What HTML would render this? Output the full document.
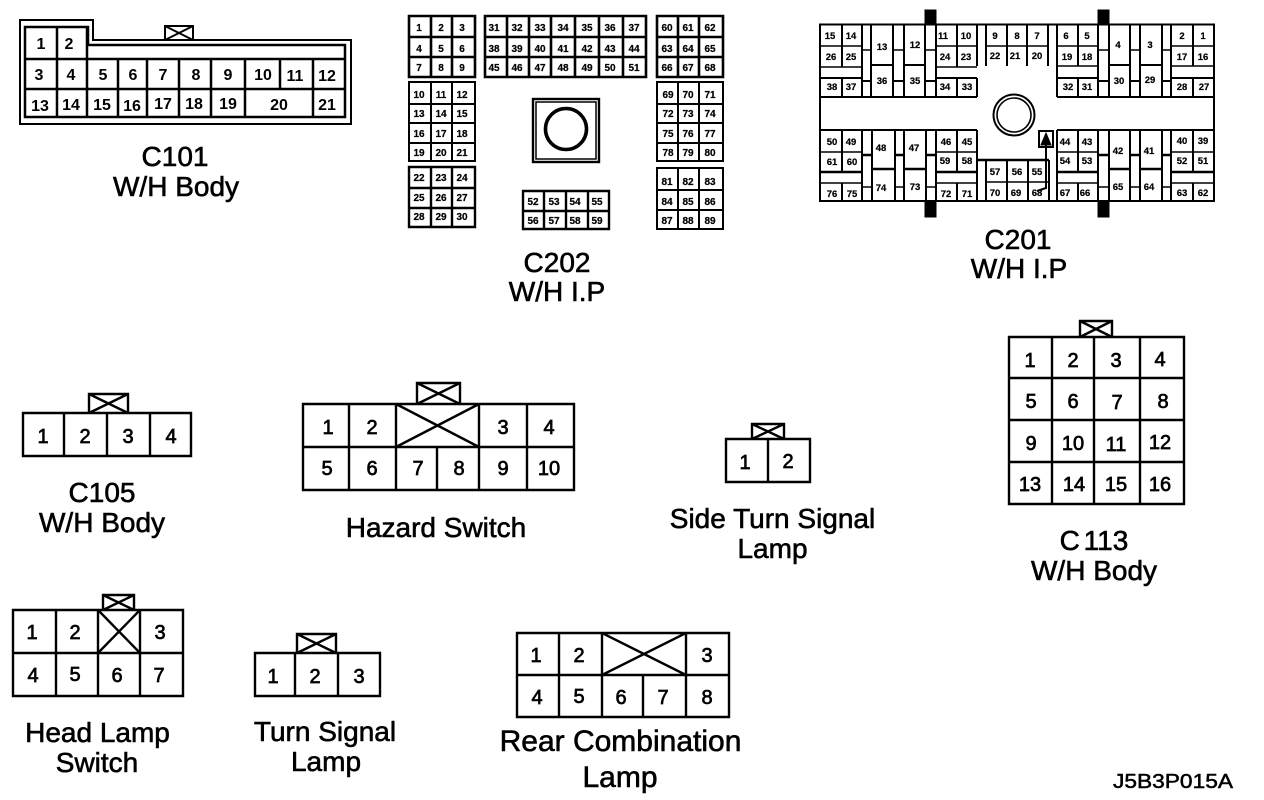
<!DOCTYPE html>
<html><head><meta charset="utf-8"><title>Connector diagram</title>
<style>
html,body{margin:0;padding:0;background:#fff;width:1264px;height:800px;overflow:hidden}
svg{display:block}
text{font-family:"Liberation Sans",sans-serif;fill:#000;text-anchor:middle}
.l{font-size:28px;stroke:#000;stroke-width:.6}
.d{font-size:20px;stroke:#000;stroke-width:.7}
.m{font-size:16px;font-weight:bold}
.s{font-size:10px;font-weight:bold;stroke:#000;stroke-width:.2}
.t{font-size:9.5px;font-weight:bold;stroke:#000;stroke-width:.2}
path,rect,circle{fill:none;stroke:#000}
</style></head><body>
<svg width="1264" height="800" viewBox="0 0 1264 800" xmlns="http://www.w3.org/2000/svg">

<!-- C101 -->
<path stroke-width="2" d="M20 20H93V40H351V124H20Z"/>
<path stroke-width="2.5" d="M25 27H88V45H345V117H25ZM25 59H345M25 89H345M57 27V117M87 27V117M118 59V117M147 59V117M179 59V117M211 59V117M245 59V117M280 59V89M313 59V117"/>
<path stroke-width="2" d="M165 40V26H193V40M165 26L193 40M193 26L165 40"/>
<g class="m">
<text x="41" y="49">1</text><text x="69" y="49">2</text>
<text x="39" y="80">3</text><text x="71" y="80">4</text><text x="103" y="80">5</text><text x="133" y="80">6</text><text x="163" y="80">7</text><text x="196" y="80">8</text><text x="228" y="80">9</text><text x="263" y="80">10</text><text x="295" y="81">11</text><text x="327" y="81">12</text>
<text x="40" y="111">13</text><text x="71" y="110">14</text><text x="102" y="110">15</text><text x="132" y="111">16</text><text x="163" y="109">17</text><text x="194" y="109">18</text><text x="228" y="109">19</text><text x="279" y="110">20</text><text x="327" y="110">21</text>
</g>
<text class="l" x="175" y="166">C101</text>
<text class="l" x="176" y="196">W/H Body</text>

<!-- C202 -->
<path stroke-width="2.6" d="M409 16H475V77H409ZM431 16V77M452 16V77M409 37H475M409 57H475"/>
<path stroke-width="2.6" d="M485 16H646V77H485ZM507 16V77M529 16V77M551 16V77M575 16V77M599 16V77M623 16V77M485 37H646M485 57H646"/>
<path stroke-width="2.6" d="M657 16H723V77H657ZM678 16V77M699 16V77M657 37H723M657 57H723"/>
<path stroke-width="2" d="M409 82H475V161H409ZM431 82V161M452 82V161M409 104H475M409 123H475M409 143H475"/>
<path stroke-width="2.4" d="M409 167H475V227H409ZM431 167V227M452 167V227M409 188H475M409 208H475"/>
<path stroke-width="2" d="M657 82H723V161H657ZM678 82V161M699 82V161M657 104H723M657 123H723M657 143H723"/>
<path stroke-width="2" d="M657 168H723V229H657ZM678 168V229M699 168V229M657 190H723M657 210H723"/>
<path stroke-width="2.4" d="M523 191H609V229H523ZM544 191V229M566 191V229M588 191V229M523 211H609"/>
<rect x="533" y="99" width="66" height="63" stroke-width="2.4"/>
<rect x="536" y="102" width="60" height="57" stroke-width="1.5"/>
<circle cx="566" cy="129" r="20.5" stroke-width="3.6"/>
<g class="s">
<text x="419" y="31">1</text><text x="441" y="31">2</text><text x="462" y="31">3</text>
<text x="419" y="52">4</text><text x="441" y="52">5</text><text x="462" y="52">6</text>
<text x="419" y="71">7</text><text x="441" y="71">8</text><text x="462" y="71">9</text>
<text x="494" y="31">31</text><text x="517" y="31">32</text><text x="540" y="31">33</text><text x="563" y="31">34</text><text x="587" y="31">35</text><text x="610" y="31">36</text><text x="634" y="31">37</text>
<text x="494" y="52">38</text><text x="517" y="52">39</text><text x="540" y="52">40</text><text x="563" y="52">41</text><text x="587" y="52">42</text><text x="610" y="52">43</text><text x="634" y="52">44</text>
<text x="494" y="71">45</text><text x="517" y="71">46</text><text x="540" y="71">47</text><text x="563" y="71">48</text><text x="587" y="71">49</text><text x="610" y="71">50</text><text x="634" y="71">51</text>
<text x="667" y="31">60</text><text x="688" y="31">61</text><text x="710" y="31">62</text>
<text x="667" y="52">63</text><text x="688" y="52">64</text><text x="710" y="52">65</text>
<text x="667" y="71">66</text><text x="688" y="71">67</text><text x="710" y="71">68</text>
<text x="419" y="98">10</text><text x="441" y="98">11</text><text x="462" y="98">12</text>
<text x="419" y="117">13</text><text x="441" y="117">14</text><text x="462" y="117">15</text>
<text x="419" y="137">16</text><text x="441" y="137">17</text><text x="462" y="137">18</text>
<text x="419" y="156">19</text><text x="441" y="156">20</text><text x="462" y="156">21</text>
<text x="419" y="181">22</text><text x="441" y="181">23</text><text x="462" y="181">24</text>
<text x="419" y="201">25</text><text x="441" y="201">26</text><text x="462" y="201">27</text>
<text x="419" y="220">28</text><text x="441" y="220">29</text><text x="462" y="220">30</text>
<text x="668" y="98">69</text><text x="688" y="98">70</text><text x="710" y="98">71</text>
<text x="668" y="117">72</text><text x="688" y="117">73</text><text x="710" y="117">74</text>
<text x="668" y="137">75</text><text x="688" y="137">76</text><text x="710" y="137">77</text>
<text x="668" y="156">78</text><text x="688" y="156">79</text><text x="710" y="156">80</text>
<text x="667" y="185">81</text><text x="688" y="185">82</text><text x="710" y="185">83</text>
<text x="667" y="205">84</text><text x="688" y="205">85</text><text x="710" y="205">86</text>
<text x="667" y="224">87</text><text x="688" y="224">88</text><text x="710" y="224">89</text>
<text x="533" y="205">52</text><text x="554" y="205">53</text><text x="575" y="205">54</text><text x="597" y="205">55</text>
<text x="533" y="224">56</text><text x="554" y="224">57</text><text x="575" y="224">58</text><text x="597" y="224">59</text>
</g>
<text class="l" x="557" y="272">C202</text>
<text class="l" x="557" y="301">W/H I.P</text>

<!-- C201 -->
<g>
<rect x="925" y="10" width="11" height="14" style="fill:#000"/>
<rect x="1098" y="10" width="11" height="14" style="fill:#000"/>
<rect x="925" y="201" width="11" height="16" style="fill:#000"/>
<rect x="1098" y="201" width="11" height="16" style="fill:#000"/>
</g>
<path stroke-width="2" d="M820 24.500H1214V201H820ZM820 97H977M1057 97H1214M820 130H977M1057 130H1214M977 201H1057"/>
<path stroke-width="2" d="M842 24V67M842 78V97M862 24V97M871 24V97M893 24V97M904 24V97M925 24V97M936 24V97M957 24V67M957 78V97M977 24V66M977 78V97M986 24V66M1007 24V66M1027 24V66M1048 24V66M1057 24V97M1078 24V66M1078 78V97M1098 24V97M1109 24V97M1130 24V97M1140 24V97M1162 24V97M1171 24V97M1193 24V66M1193 78V97"/>
<path stroke-width="1.4" d="M820 46H862M820 67H862M936 46H977M936 67H977M986 46H1048M1057 46H1098M1057 66H1098M1171 46H1214M1171 66H1214M862 50H871M893 50H904M925 50H936M1098 50H1109M1130 50H1140M1162 50H1171"/>
<path stroke-width="2" d="M820 78H862M936 78H977M1057 78H1098M1171 78H1214M871 65H893M904 65H925M1109 65H1130M1140 65H1162M862 81H871M893 81H904M925 81H936M1098 81H1109M1130 81H1140M1162 81H1171"/>
<path stroke-width="2" d="M842 130V172M842 183V201M862 130V201M872 130V201M895 130V201M904 130V201M926 130V201M936 130V201M957 130V172M957 183V201M977 130V201M986 160V201M1007 160V201M1028 160V201M1049 160V201M1057 130V201M1078 130V172M1078 183V201M1098 130V201M1109 130V201M1130 130V201M1140 130V201M1162 130V201M1171 130V201M1193 130V172M1193 183V201"/>
<path stroke-width="1.4" d="M820 152H862M936 152H977M1057 152H1098M1171 152H1214M820 183H862M936 183H977M1057 183H1098M1171 183H1214M986 182H1049M862 187H872M895 187H904M926 187H936M1098 187H1109M1130 187H1140M1162 187H1171"/>
<path stroke-width="2.4" d="M820 172H862M936 172H977M1057 172H1098M1171 172H1214M872 169H895M904 169H926M1109 169H1130M1140 169H1162M862 155H872M895 155H904M926 155H936M1098 155H1109M1130 155H1140M1162 155H1171M977 160H1049"/>
<circle cx="1014" cy="115" r="20.500" stroke-width="2"/>
<circle cx="1014" cy="115" r="17" stroke-width="1.6"/>
<rect x="1039" y="131" width="14" height="16" stroke-width="2"/>
<path d="M1041 145L1046 133L1051 145Z" style="fill:#000"/>
<path stroke-width="2" d="M1046 145V188L1037 191"/>
<g class="t">
<text x="830" y="39">15</text><text x="851" y="39">14</text><text x="831" y="60">26</text><text x="851" y="60">25</text><text x="832" y="90">38</text><text x="851" y="90">37</text>
<text x="882" y="50">13</text><text x="882" y="84">36</text><text x="915" y="48">12</text><text x="915" y="84">35</text>
<text x="943" y="39">11</text><text x="966" y="39">10</text><text x="945" y="60">24</text><text x="966" y="60">23</text><text x="945" y="90">34</text><text x="967" y="90">33</text>
<text x="995" y="39">9</text><text x="1017" y="39">8</text><text x="1037" y="39">7</text><text x="995" y="59">22</text><text x="1015" y="59">21</text><text x="1037" y="59">20</text>
<text x="1066" y="39">6</text><text x="1087" y="39">5</text><text x="1067" y="60">19</text><text x="1087" y="60">18</text><text x="1068" y="90">32</text><text x="1087" y="90">31</text>
<text x="1118" y="48">4</text><text x="1119" y="84">30</text><text x="1150" y="48">3</text><text x="1150" y="83">29</text>
<text x="1182" y="39">2</text><text x="1203" y="39">1</text><text x="1182" y="60">17</text><text x="1203" y="60">16</text><text x="1182" y="90">28</text><text x="1204" y="90">27</text>
<text x="832" y="145">50</text><text x="851" y="145">49</text><text x="832" y="165">61</text><text x="852" y="165">60</text><text x="832" y="197">76</text><text x="852" y="197">75</text>
<text x="881" y="151">48</text><text x="881" y="191">74</text><text x="914" y="151">47</text><text x="915" y="190">73</text>
<text x="946" y="145">46</text><text x="967" y="145">45</text><text x="945" y="164">59</text><text x="967" y="164">58</text><text x="946" y="197">72</text><text x="967" y="197">71</text>
<text x="995" y="175">57</text><text x="1017" y="175">56</text><text x="1037" y="175">55</text><text x="995" y="196">70</text><text x="1016" y="196">69</text><text x="1037" y="196">68</text>
<text x="1065" y="145">44</text><text x="1087" y="145">43</text><text x="1065" y="164">54</text><text x="1087" y="164">53</text><text x="1065" y="196">67</text><text x="1085" y="196">66</text>
<text x="1118" y="154">42</text><text x="1118" y="190">65</text><text x="1149" y="154">41</text><text x="1149" y="190">64</text>
<text x="1182" y="144">40</text><text x="1203" y="144">39</text><text x="1182" y="164">52</text><text x="1203" y="164">51</text><text x="1182" y="196">63</text><text x="1203" y="196">62</text>
</g>
<text class="l" x="1018" y="249">C201</text>
<text class="l" x="1019" y="278">W/H I.P</text>

<!-- C105 -->
<path stroke-width="2.400" d="M23 413H191V456H23ZM64 413V456M107 413V456M150 413V456"/>
<path stroke-width="2.400" d="M89 413V394H128V413M89 394L128 413M128 394L89 413"/>
<g class="d"><text x="43" y="443">1</text><text x="85" y="443">2</text><text x="128" y="443">3</text><text x="171" y="443">4</text></g>
<text class="l" x="102" y="502">C105</text>
<text class="l" x="102" y="532">W/H Body</text>

<!-- Hazard Switch -->
<path stroke-width="2.400" d="M303 404H574V490H303ZM303 447H574M349 404V490M396 404V490M437 447V490M479 404V490M527 404V490M396 404L479 447M479 404L396 447"/>
<path stroke-width="2.400" d="M417 404V383H460V404M417 383L460 404M460 383L417 404"/>
<g class="d"><text x="328" y="434">1</text><text x="372" y="434">2</text><text x="503" y="434">3</text><text x="549" y="434">4</text>
<text x="327" y="475">5</text><text x="372" y="475">6</text><text x="418" y="475">7</text><text x="459" y="475">8</text><text x="503" y="475">9</text><text x="549" y="475">10</text></g>
<text class="l" x="436" y="537">Hazard Switch</text>

<!-- Side Turn Signal Lamp -->
<path stroke-width="2.400" d="M726 439H810V482H726ZM768 439V482"/>
<path stroke-width="2.400" d="M752 439V424H784V439M752 424L784 439M784 424L752 439"/>
<g class="d"><text x="745" y="469">1</text><text x="788" y="468">2</text></g>
<text class="l" x="772.500" y="528">Side Turn Signal</text>
<text class="l" x="772.500" y="558">Lamp</text>

<!-- C113 -->
<path stroke-width="2.400" d="M1009 337H1184V504H1009ZM1052 337V504M1094 337V504M1140 337V504M1009 378H1184M1009 420H1184M1009 462H1184"/>
<path stroke-width="2.400" d="M1080 337V321H1112V337M1080 321L1112 337M1112 321L1080 337"/>
<g class="d">
<text x="1030" y="367">1</text><text x="1073" y="367">2</text><text x="1116" y="367">3</text><text x="1160" y="366">4</text>
<text x="1031" y="408">5</text><text x="1073" y="408">6</text><text x="1117" y="409">7</text><text x="1163" y="408">8</text>
<text x="1031" y="450">9</text><text x="1073" y="450">10</text><text x="1116" y="451">11</text><text x="1160" y="449">12</text>
<text x="1030" y="491">13</text><text x="1074" y="491">14</text><text x="1116" y="491">15</text><text x="1160" y="491">16</text>
</g>
<text class="l" x="1094" y="550" style="word-spacing:-4px">C 113</text>
<text class="l" x="1094" y="580">W/H Body</text>

<!-- Head Lamp Switch -->
<path stroke-width="2.400" d="M13 610H183V696H13ZM13 653H183M56 610V696M98 610V696M140 610V696M98 610L140 653M140 610L98 653"/>
<path stroke-width="2.400" d="M103 610V595H134V610M103 595L134 610M134 595L103 610"/>
<g class="d"><text x="32" y="639">1</text><text x="75" y="639">2</text><text x="160" y="639">3</text>
<text x="33" y="682">4</text><text x="75" y="681">5</text><text x="117" y="682">6</text><text x="159" y="682">7</text></g>
<text class="l" x="97.500" y="742">Head Lamp</text>
<text class="l" x="97" y="772">Switch</text>

<!-- Turn Signal Lamp -->
<path stroke-width="2.400" d="M255 653H380V696H255ZM295 653V696M338 653V696"/>
<path stroke-width="2.400" d="M297 653V634H336V653M297 634L336 653M336 634L297 653"/>
<g class="d"><text x="273" y="683">1</text><text x="315" y="683">2</text><text x="359" y="683">3</text></g>
<text class="l" x="325" y="741">Turn Signal</text>
<text class="l" x="326" y="771">Lamp</text>

<!-- Rear Combination Lamp -->
<path stroke-width="2.400" d="M517 633H729V717H517ZM517 675H729M559 633V717M602 633V717M643 675V717M686 633V717M602 633L686 675M686 633L602 675"/>
<g class="d"><text x="536" y="662">1</text><text x="579" y="662">2</text><text x="707" y="662">3</text>
<text x="537" y="704">4</text><text x="579" y="703">5</text><text x="621" y="704">6</text><text x="663" y="704">7</text><text x="707" y="704">8</text></g>
<text class="l" x="620.500" y="751" style="font-size:30px">Rear Combination</text>
<text class="l" x="620" y="787" style="font-size:30px">Lamp</text>

<text x="1173" y="788" style="font-size:20px;stroke:#000;stroke-width:.5" textLength="120" lengthAdjust="spacingAndGlyphs">J5B3P015A</text>
</svg>
</body></html>
